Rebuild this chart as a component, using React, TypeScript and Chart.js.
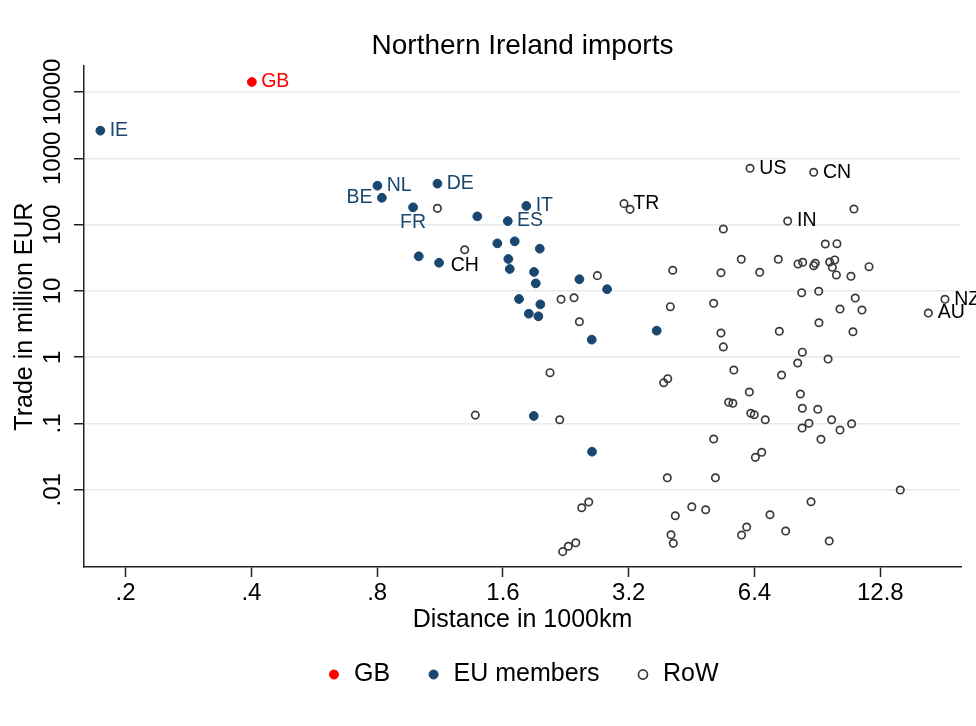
import React, { useEffect, useRef } from 'react';
import { Chart, registerables } from 'chart.js';

Chart.register(...registerables);

const FONT = '"Liberation Sans", Arial, Helvetica, sans-serif';

// Axis ticks
const xTickValues = [0.2, 0.4, 0.8, 1.6, 3.2, 6.4, 12.8];
const xTickLabels = ['.2', '.4', '.8', '1.6', '3.2', '6.4', '12.8'];
const yTickValues = [0.01, 0.1, 1, 10, 100, 1000, 10000];
const yTickLabels = ['.01', '.1', '1', '10', '100', '1000', '10000'];

// GB
const gbCodes = ['GB'];
const gbDistance = [0.401];
const gbTrade = [14150];

// EU members
const euCodes = [
  'IE', 'NL', 'BE', 'DE', 'FR', 'IT', 'ES', '', '', '', '', '', '', '', '', '', '', '', '', '', '', '', '', '', '', '', '',
];
const euDistance = [
  0.174, 0.801, 0.821, 1.115, 0.975, 1.82, 1.643, 1.389, 1.551, 1.707, 1.96, 1.006, 1.125, 1.648, 1.661, 1.899, 1.917,
  2.438, 2.84, 1.748, 1.966, 1.845, 1.945, 2.61, 3.734, 1.896, 2.614,
];
const euTrade = [
  2610, 386, 254, 414, 182, 191, 113, 133, 52.2, 56.0, 43.3, 33.3, 26.6, 30.3, 21.4, 19.3, 13.0,
  15.0, 10.6, 7.55, 6.28, 4.53, 4.14, 1.84, 2.51, 0.13, 0.0376,
];

// Rest of the world
const rowCodes = [
  'CH', '', 'TR', '', 'US', 'CN', 'IN', 'NZ', 'AU', '', '', '', '', '', '', '', '', '', '', '', '', '', '', '', '',
  '', '', '', '', '', '', '', '', '', '', '', '', '', '', '', '', '', '', '', '', '', '', '', '', '', '', '', '', '',
  '', '', '', '', '', '', '', '', '', '', '', '', '', '', '', '', '', '', '', '', '', '', '', '', '', '', '', '', '',
  '', '', '', '', '', '', '', '',
];
const rowDistance = [
  1.296, 1.115, 3.118, 3.223, 6.244, 8.868, 7.684, 18.28, 16.68, 11.07, 5.39, 9.454, 10.08, 5.95, 7.296, 8.134, 8.346,
  8.868, 8.946, 9.686, 9.958, 9.826, 10.05, 10.89, 12.03, 4.078, 5.32, 6.586, 2.692, 8.3, 9.116, 11.15, 10.25, 11.57,
  4.025, 5.11, 9.13, 5.32, 7.337, 11.01, 2.204, 2.367, 2.438, 5.39, 8.33, 8.12, 9.6, 5.71, 7.43, 2.074, 3.88, 3.967,
  6.22, 8.24, 5.55, 5.68, 8.33, 9.07, 6.27, 6.39, 6.79, 9.79, 10.93, 8.64, 8.32, 10.25, 9.23, 5.11, 6.66, 6.43, 1.374,
  2.188, 3.958, 5.16, 14.29, 8.74, 2.567, 2.47, 4.53, 4.89, 4.136, 6.97, 6.13, 5.96, 7.6, 9.66, 4.04, 4.09, 2.39,
  2.294, 2.224,
];
const rowTrade = [
  41.8, 176, 207, 170, 707, 615, 113, 7.47, 4.64, 172, 85.8, 51.0, 51.5, 30.0, 30.0, 25.5, 27.0,
  24.0, 26.1, 27.3, 29.3, 22.7, 17.4, 16.6, 23.2, 20.5, 18.8, 19.1, 17.0, 9.4, 9.86, 7.81, 5.33, 5.15,
  5.78, 6.5, 3.31, 2.32, 2.46, 2.42, 7.47, 7.89, 3.43, 1.43, 1.19, 0.818, 0.939, 0.641, 0.539, 0.584, 0.413, 0.474,
  0.299, 0.279, 0.209, 0.202, 0.17, 0.164, 0.143, 0.136, 0.114, 0.114, 0.0993, 0.101, 0.0855, 0.0798, 0.0578, 0.0584,
  0.0368, 0.0309, 0.134, 0.114, 0.0152, 0.0152, 0.00993, 0.00661, 0.00655, 0.00537, 0.00556, 0.00501, 0.00407, 0.00421,
  0.00275, 0.00208, 0.00239, 0.00169, 0.0021, 0.00156, 0.00159, 0.00141, 0.00117,
];

const RED = '#ff0000';
const NAVY = '#1a476f';
const HOLLOW = '#3a3a3a';

const labelPlacement: Record<string, string> = { BE: 'left', FR: 'below', CH: 'below' };

const toPoints = (xs: number[], ys: number[]) => xs.map((x, i) => ({ x, y: ys[i] }));

const pointLabelPlugin = {
  id: 'pointLabels',
  afterDatasetsDraw(chart: any) {
    const ctx = chart.ctx;
    const sets = [
      { codes: gbCodes, color: RED },
      { codes: euCodes, color: NAVY },
      { codes: rowCodes, color: '#000' },
    ];
    sets.forEach((s, di) => {
      const meta = chart.getDatasetMeta(di);
      meta.data.forEach((el: any, i: number) => {
        const code = s.codes[i];
        if (!code) return;
        const place = labelPlacement[code] || 'right';
        ctx.save();
        ctx.font = `19.5px ${FONT}`;
        ctx.fillStyle = s.color;
        ctx.textBaseline = 'middle';
        if (place === 'left') {
          ctx.textAlign = 'right';
          ctx.fillText(code, el.x - 9.3, el.y);
        } else if (place === 'below') {
          ctx.textAlign = 'center';
          ctx.fillText(code, el.x, el.y + 15.5);
        } else {
          ctx.textAlign = 'left';
          ctx.fillText(code, el.x + 9.3, el.y);
        }
        ctx.restore();
      });
    });
  },
};

export default function App() {
  const canvasRef = useRef<HTMLCanvasElement | null>(null);

  useEffect(() => {
    document.body.style.margin = '0';
    const canvas = canvasRef.current;
    if (!canvas) return;
    const chart = new Chart(canvas, {
      type: 'scatter',
      data: {
        datasets: [
          {
            label: 'GB',
            data: toPoints(gbDistance, gbTrade),
            backgroundColor: RED,
            borderColor: RED,
            borderWidth: 1,
            pointRadius: 4.4,
            pointStyle: 'circle',
          },
          {
            label: 'EU members',
            data: toPoints(euDistance, euTrade),
            backgroundColor: NAVY,
            borderColor: NAVY,
            borderWidth: 1,
            pointRadius: 4.4,
            pointStyle: 'circle',
          },
          {
            label: 'RoW',
            data: toPoints(rowDistance, rowTrade),
            backgroundColor: 'rgba(0,0,0,0)',
            borderColor: HOLLOW,
            borderWidth: 1.7,
            pointRadius: 3.7,
            pointStyle: 'circle',
          },
        ],
      },
      options: {
        responsive: false,
        maintainAspectRatio: false,
        animation: false,
        devicePixelRatio: 1,
        events: [],
        layout: { padding: { top: 0, left: 0, right: 15, bottom: 29 } },
        scales: {
          x: {
            type: 'logarithmic',
            position: 'bottom',
            min: 0.159,
            max: 19.97,
            afterBuildTicks: (s: any) => {
              s.ticks = xTickValues.map((v) => ({ value: v }));
            },
            afterFit: (s: any) => {
              s.height = 59;
            },
            ticks: {
              autoSkip: false,
              minRotation: 0,
              maxRotation: 0,
              padding: 1.9,
              color: '#000',
              font: { size: 24, family: FONT },
              callback: (_v: any, i: number) => xTickLabels[i],
            },
            grid: {
              drawOnChartArea: false,
              drawTicks: true,
              tickLength: 10,
              tickColor: '#222',
              tickWidth: 1.5,
            },
            border: { display: true, color: '#222', width: 1.5 },
            title: {
              display: true,
              text: 'Distance in 1000km',
              color: '#000',
              font: { size: 25, family: FONT },
              padding: { top: 0, bottom: -9 },
            },
          },
          y: {
            type: 'logarithmic',
            position: 'left',
            min: 0.000686,
            max: 24660,
            afterBuildTicks: (s: any) => {
              s.ticks = yTickValues.map((v) => ({ value: v }));
            },
            afterFit: (s: any) => {
              s.width = 84;
            },
            ticks: {
              autoSkip: false,
              minRotation: 90,
              maxRotation: 90,
              crossAlign: 'center',
              padding: -12.9,
              color: '#000',
              font: { size: 24, family: FONT },
              callback: (_v: any, i: number) => yTickLabels[i],
            },
            grid: {
              color: '#e4ecef',
              lineWidth: 1.5,
              drawTicks: true,
              tickLength: 10,
              tickColor: '#222',
              tickWidth: 1.5,
            },
            border: { display: true, color: '#222', width: 1.5 },
            title: {
              display: true,
              text: 'Trade in million EUR',
              color: '#000',
              font: { size: 25, family: FONT },
              padding: { top: 10, bottom: 0 },
            },
          },
        },
        plugins: {
          title: {
            display: true,
            text: 'Northern Ireland imports',
            color: '#000',
            fullSize: false,
            font: { size: 28, weight: 'normal', family: FONT },
            padding: { top: 29.9, bottom: 2.5 },
          },
          legend: {
            display: true,
            position: 'bottom',
            fullSize: false,
            labels: {
              usePointStyle: true,
              boxWidth: 15,
              boxHeight: 6.4,
              padding: 36,
              color: '#000',
              font: { size: 25, family: FONT },
            },
          },
          tooltip: { enabled: false },
        },
      } as any,
      plugins: [pointLabelPlugin],
    });
    return () => chart.destroy();
  }, []);

  return (
    <div style={{ width: 976, height: 726 }}>
      <canvas ref={canvasRef} width={976} height={726} style={{ display: 'block' }} />
    </div>
  );
}
